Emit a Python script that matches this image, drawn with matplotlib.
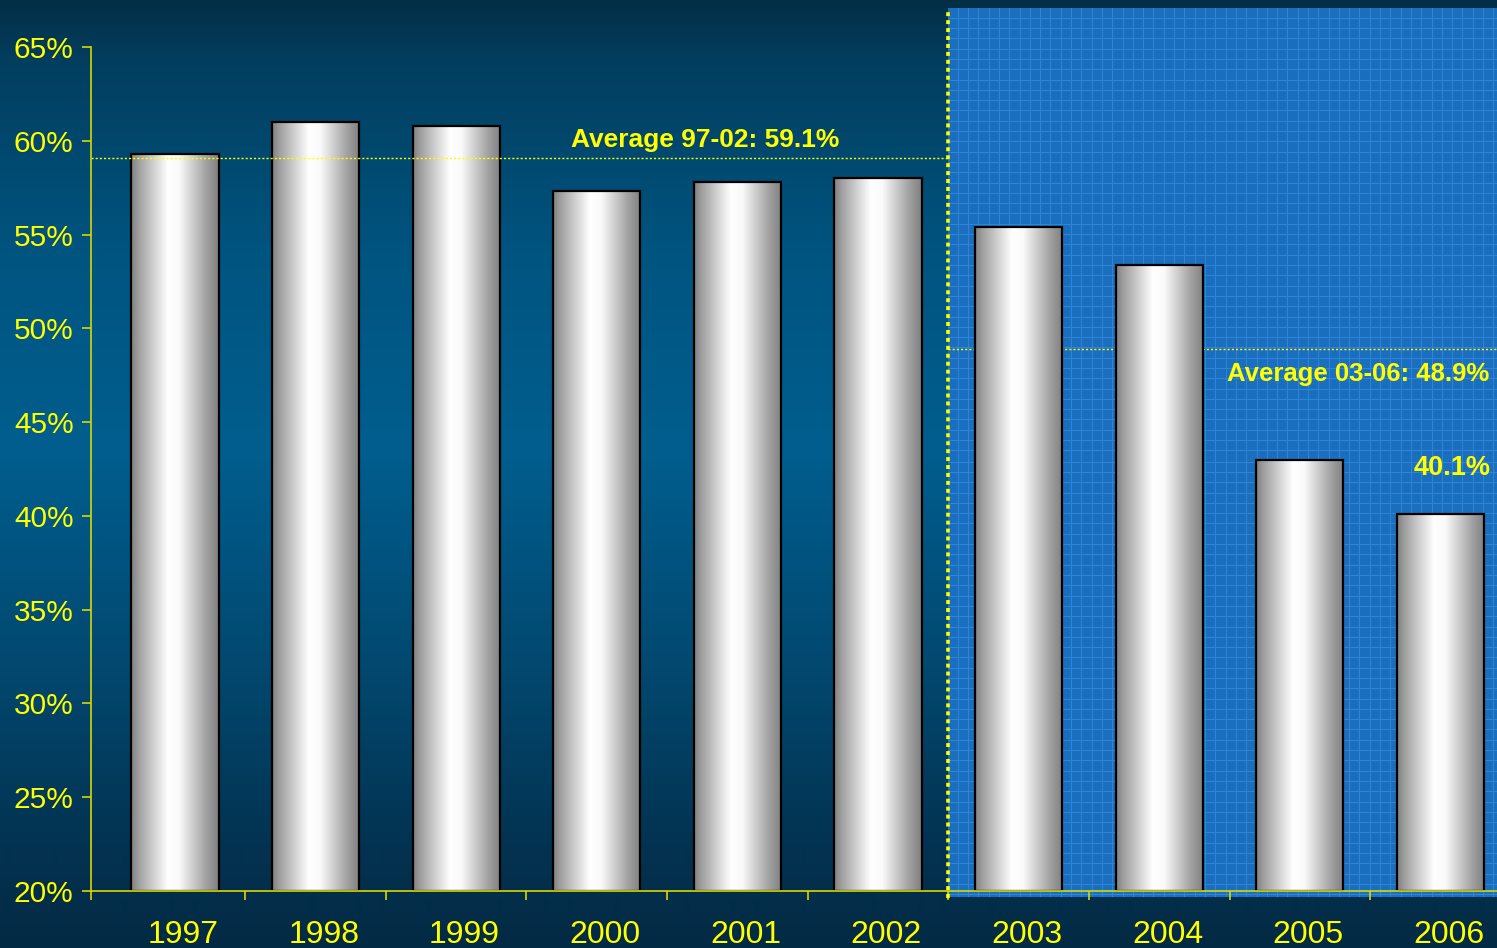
import numpy as np
import matplotlib
matplotlib.use("Agg")
import matplotlib.pyplot as plt

# ---- data -------------------------------------------------------------
years = ["1997", "1998", "1999", "2000", "2001", "2002",
         "2003", "2004", "2005", "2006"]
share = [59.3, 61.0, 60.8, 57.3, 57.8, 58.0, 55.4, 53.4, 43.0, 40.1]
avg_early = 59.1
avg_late = 48.9
avg_early_label = "Average 97-02: 59.1%"
avg_late_label = "Average 03-06: 48.9%"
last_label = "40.1%"
y_ticks = [20, 25, 30, 35, 40, 45, 50, 55, 60, 65]
y_tick_labels = [f"{v}%" for v in y_ticks]
split_at = 5.5          # boundary between the two periods

# ---- styling ----------------------------------------------------------
W, H = 1497, 948
YELLOW = "#ffff00"
AXIS_YELLOW = "#d8d800"
FONT = "Liberation Sans"

fig = plt.figure(figsize=(W / 100, H / 100), dpi=100)

# background: vertical blue gradient over the whole figure
bg = fig.add_axes([0, 0, 1, 1], zorder=0)
bg.set_xlim(0, W)
bg.set_ylim(H, 0)
bg.axis("off")
rows = np.arange(H)
stops = [0, 60, 250, 450, 650, 850, H]
rc = np.interp(rows, stops, [3, 2, 0, 0, 2, 3, 3])
gc = np.interp(rows, stops, [46, 62, 84, 94, 74, 50, 42])
bc = np.interp(rows, stops, [70, 94, 128, 142, 114, 80, 68])
grad = np.stack([rc, gc, bc], axis=-1)[:, None, :] / 255.0
bg.imshow(grad, extent=(0, W, H, 0), aspect="auto", interpolation="bilinear")

# main axes
ax = fig.add_axes([91 / W, 1 - 891 / H, 1 - 91 / W, 844 / H], zorder=1)
ax.patch.set_visible(False)
xmin, xmax = -0.597, 9.402
ymin, ymax = 20, 65

# highlighted period: blue panel with a fine blueprint grid
ph, pw = 888, 549
yy, xx = np.mgrid[0:ph, 0:pw]
base = np.array([28, 112, 192], dtype=float)
panel = np.ones((ph, pw, 3)) * base
checker = ((xx + yy) % 2 == 0)
panel[checker] += np.array([-3, -3, -4])
step = 10.3
vline = (np.floor(xx / step) != np.floor((xx + 1) / step))
hline = (np.floor(yy / step) != np.floor((yy + 1) / step))
panel[vline | hline] = np.array([46, 132, 214])
panel = np.clip(panel, 0, 255) / 255.0
px_per_unit_y = 844 / (ymax - ymin)
ax.imshow(panel, extent=(split_at, xmax, ymin - 6 / px_per_unit_y, ymax + 38 / px_per_unit_y),
          aspect="auto", interpolation="nearest", zorder=0.5, clip_on=False)

# bars with a cylindrical grey-white shading
bar_w = 0.62
t = np.linspace(0, 1, 200)
shade = np.interp(t, [0, 0.08, 0.42, 0.55, 0.85, 1.0],
                  [0.50, 0.62, 1.0, 0.98, 0.64, 0.50])
shade_img = np.repeat(shade[None, :, None], 3, axis=2)
x = np.arange(len(years))
for xi, v in zip(x, share):
    ax.imshow(shade_img, extent=(xi - bar_w / 2, xi + bar_w / 2, ymin, v),
              aspect="auto", interpolation="bilinear", zorder=2)
ax.bar(x, np.array(share) - ymin, bottom=ymin, width=bar_w,
       facecolor="none", edgecolor="black", linewidth=1.6, zorder=3)

# period averages
ax.plot([xmin, split_at], [avg_early, avg_early], color=YELLOW, lw=1.0,
        linestyle=(0, (1.5, 1.5)), zorder=4, clip_on=False)
ax.plot([split_at, xmax], [avg_late, avg_late], color=YELLOW, lw=1.0,
        linestyle=(0, (1.5, 1.5)), zorder=1, clip_on=False)
ax.plot([split_at, split_at], [ymin - 7 / px_per_unit_y, ymax + 37 / px_per_unit_y],
        color=YELLOW, lw=2.6, linestyle=(0, (1.1, 1.1)), zorder=4, clip_on=False)

ax.text(2.817, 60.03, avg_early_label, color=YELLOW, fontsize=19,
        fontweight="bold", family=FONT, ha="left", va="center", zorder=5)
ax.text(7.48, 47.56, avg_late_label, color=YELLOW, fontsize=18.5,
        fontweight="bold", family=FONT, ha="left", va="center", zorder=5)
ax.text(9.08, share[-1] + 2.45, last_label, color=YELLOW, fontsize=19.5,
        fontweight="bold", family=FONT, ha="center", va="center", zorder=5)

# axes, ticks and labels
ax.set_xlim(xmin, xmax)
ax.set_ylim(ymin, ymax)
for s in ("top", "right"):
    ax.spines[s].set_visible(False)
for s in ("left", "bottom"):
    ax.spines[s].set_color(AXIS_YELLOW)
    ax.spines[s].set_linewidth(1.2)
    ax.spines[s].set_zorder(4)

ax.set_yticks(y_ticks)
ax.set_yticklabels(y_tick_labels, family=FONT, fontsize=21.5, color=YELLOW)
ax.tick_params(axis="y", length=6.5, width=1.2, color=AXIS_YELLOW, pad=6)

ax.set_xticks(x + 0.06)
ax.set_xticklabels(years, family=FONT, fontsize=23, color=YELLOW)
ax.set_xticks([xmin] + list(np.arange(0.5, 9.0, 1.0)), minor=True)
ax.tick_params(axis="x", which="major", length=0, pad=21)
ax.tick_params(axis="x", which="minor", length=6.5, width=1.2,
               color=AXIS_YELLOW, direction="out")

fig.savefig("out.png", dpi=100)
